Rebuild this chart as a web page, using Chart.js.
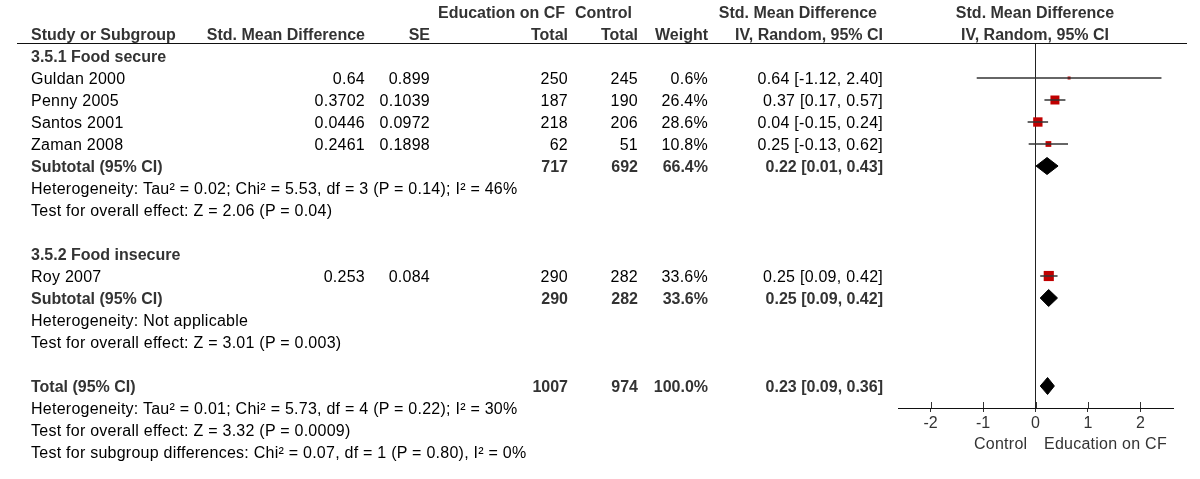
<!DOCTYPE html>
<html>
<head>
<meta charset="utf-8">
<script src="https://cdn.jsdelivr.net/npm/chart.js@4.4.1/dist/chart.umd.min.js"></script>
<style>
  body { margin: 0; background: #fff; overflow: hidden; }
  #page { position: relative; width: 1200px; height: 479px; font-family: 'Liberation Sans', Arial, sans-serif; font-size: 16px; color: #000; }
  .t { position: absolute; white-space: pre; line-height: 18px; letter-spacing: 0.25px; }
  .b { font-weight: bold; color: #333; letter-spacing: 0; }
  .g { color: #333; }
  .r { transform: translateX(-100%); }
  .c { transform: translateX(-50%); }
  #rule { position: absolute; left: 17px; top: 43px; width: 1170px; height: 1px; background: #111; }
  #wrap { position: absolute; left: 0; top: 0; width: 1200px; height: 479px; pointer-events: none; }
</style>
</head>
<body>
<div id="page">
  <div id="rule"></div>
  <div id="wrap"><canvas id="forest"></canvas></div>
</div>
<script>
/* ---------- data ---------- */
const groupNames = ['3.5.1 Food secure', '3.5.2 Food insecure'];
const studies    = ['Guldan 2000', 'Penny 2005', 'Santos 2001', 'Zaman 2008', 'Roy 2007'];
const studyGroup = [0, 0, 0, 0, 1];
const smd        = [0.64, 0.3702, 0.0446, 0.2461, 0.253];
const se         = [0.899, 0.1039, 0.0972, 0.1898, 0.084];
const eduTotal   = [250, 187, 218, 62, 290];
const ctrlTotal  = [245, 190, 206, 51, 282];
const weight     = [0.6, 26.4, 28.6, 10.8, 33.6];
const ciEst      = [0.64, 0.37, 0.04, 0.25, 0.25];
const ciLow      = [-1.12, 0.17, -0.15, -0.13, 0.09];
const ciHigh     = [2.40, 0.57, 0.24, 0.62, 0.42];

const subEdu    = [717, 290];
const subCtrl   = [692, 282];
const subWeight = [66.4, 33.6];
const subEst    = [0.22, 0.25];
const subLow    = [0.01, 0.09];
const subHigh   = [0.43, 0.42];
const subHet    = ['Heterogeneity: Tau\u00b2 = 0.02; Chi\u00b2 = 5.53, df = 3 (P = 0.14); I\u00b2 = 46%',
                   'Heterogeneity: Not applicable'];
const subTest   = ['Test for overall effect: Z = 2.06 (P = 0.04)',
                   'Test for overall effect: Z = 3.01 (P = 0.003)'];

const totEdu = 1007, totCtrl = 974, totWeight = 100.0;
const totEst = 0.23, totLow = 0.09, totHigh = 0.36;
const totLines = ['Heterogeneity: Tau\u00b2 = 0.01; Chi\u00b2 = 5.73, df = 4 (P = 0.22); I\u00b2 = 30%',
                  'Test for overall effect: Z = 3.32 (P = 0.0009)',
                  'Test for subgroup differences: Chi\u00b2 = 0.07, df = 1 (P = 0.80), I\u00b2 = 0%'];

const xTicks = [-2, -1, 0, 1, 2];
const xMin = -2.62, xMax = 2.62;
const favours = ['Control', 'Education on CF'];

/* ---------- layout ---------- */
const ROW0 = 56, ROWH = 22, TOP = 44, AXIS = 408;
const COL = { study: 31, smd: 365, se: 430, edu: 568, ctrl: 638, weight: 708, ci: 883, plot: 1035 };

const page = document.getElementById('page');
function rowY(r) { return ROW0 + ROWH * r; }
function cell(text, x, y, cls) {
  const d = document.createElement('div');
  d.className = 't ' + (cls || '');
  d.textContent = text;
  d.style.left = x + 'px';
  d.style.top = (y - 8) + 'px';
  page.appendChild(d);
}
function ciText(e, l, h) { return e.toFixed(2) + ' [' + l.toFixed(2) + ', ' + h.toFixed(2) + ']'; }

/* header */
cell('Education on CF', 438, rowY(-2), 'b');
cell('Control', 575, rowY(-2), 'b');
cell('Std. Mean Difference', 877, rowY(-2), 'b r');
cell('Std. Mean Difference', COL.plot, rowY(-2), 'b c');
cell('Study or Subgroup', COL.study, rowY(-1), 'b');
cell('Std. Mean Difference', COL.smd, rowY(-1), 'b r');
cell('SE', COL.se, rowY(-1), 'b r');
cell('Total', COL.edu, rowY(-1), 'b r');
cell('Total', COL.ctrl, rowY(-1), 'b r');
cell('Weight', COL.weight, rowY(-1), 'b r');
cell('IV, Random, 95% CI', COL.ci, rowY(-1), 'b r');
cell('IV, Random, 95% CI', COL.plot, rowY(-1), 'b c');

/* table body, collecting plot rows */
const studyRow = [], subRow = [];
let r = 0;
groupNames.forEach((g, gi) => {
  cell(g, COL.study, rowY(r), 'b'); r++;
  studies.forEach((s, i) => {
    if (studyGroup[i] !== gi) return;
    const y = rowY(r);
    cell(s, COL.study, y);
    cell(String(smd[i]), COL.smd, y, 'r');
    cell(String(se[i]), COL.se, y, 'r');
    cell(String(eduTotal[i]), COL.edu, y, 'r');
    cell(String(ctrlTotal[i]), COL.ctrl, y, 'r');
    cell(weight[i].toFixed(1) + '%', COL.weight, y, 'r');
    cell(ciText(ciEst[i], ciLow[i], ciHigh[i]), COL.ci, y, 'r');
    studyRow[i] = r; r++;
  });
  const y = rowY(r);
  cell('Subtotal (95% CI)', COL.study, y, 'b');
  cell(String(subEdu[gi]), COL.edu, y, 'b r');
  cell(String(subCtrl[gi]), COL.ctrl, y, 'b r');
  cell(subWeight[gi].toFixed(1) + '%', COL.weight, y, 'b r');
  cell(ciText(subEst[gi], subLow[gi], subHigh[gi]), COL.ci, y, 'b r');
  subRow[gi] = r; r++;
  cell(subHet[gi], COL.study, rowY(r)); r++;
  cell(subTest[gi], COL.study, rowY(r)); r++;
  r++;
});
const totRow = r;
cell('Total (95% CI)', COL.study, rowY(r), 'b');
cell(String(totEdu), COL.edu, rowY(r), 'b r');
cell(String(totCtrl), COL.ctrl, rowY(r), 'b r');
cell(totWeight.toFixed(1) + '%', COL.weight, rowY(r), 'b r');
cell(ciText(totEst, totLow, totHigh), COL.ci, rowY(r), 'b r');
r++;
totLines.forEach(t => { cell(t, COL.study, rowY(r)); r++; });

cell(favours[0], 974, 443, 'g');
cell(favours[1], 1044, 443, 'g');

/* ---------- chart ---------- */
const RED = '#c00000';
const DIAMOND_H = 8.5 / ROWH;
const datasets = [];

studies.forEach((s, i) => {
  datasets.push({
    data: [{ x: ciLow[i], y: studyRow[i] }, { x: ciHigh[i], y: studyRow[i] }],
    showLine: true, borderColor: '#333', borderWidth: 1.5, pointRadius: 0, fill: false
  });
});

datasets.push({
  data: studies.map((s, i) => ({ x: smd[i], y: studyRow[i] })),
  pointStyle: 'rect',
  pointRadius: weight.map(w => Math.max(3, 1.75 * Math.sqrt(w)) / Math.SQRT2),
  backgroundColor: RED, borderWidth: 0
});

function diamond(est, lo, hi, row) {
  [-1, 1].forEach(side => {
    datasets.push({
      data: [{ x: lo, y: row }, { x: est, y: row + side * DIAMOND_H }, { x: hi, y: row }],
      showLine: true, borderColor: '#000', borderWidth: 1, pointRadius: 0,
      backgroundColor: '#000', fill: { value: row }
    });
  });
}
subEst.forEach((e, gi) => diamond(e, subLow[gi], subHigh[gi], subRow[gi]));
diamond(totEst, totLow, totHigh, totRow);

const upTicks = {
  id: 'upTicks',
  afterDraw(chart) {
    const sx = chart.scales.x, c = chart.ctx;
    c.save();
    c.strokeStyle = '#333';
    c.lineWidth = 1;
    sx.ticks.forEach(t => {
      const px = Math.round(sx.getPixelForValue(t.value)) + 0.5;
      c.beginPath();
      c.moveTo(px, sx.top - 6);
      c.lineTo(px, sx.top);
      c.stroke();
    });
    c.restore();
  }
};

new Chart(document.getElementById('forest'), {
  type: 'scatter',
  data: { datasets },
  options: {
    responsive: true,
    maintainAspectRatio: false,
    animation: false,
    layout: { padding: { left: 898, right: 27, top: TOP, bottom: 0 } },
    plugins: { legend: { display: false }, tooltip: { enabled: false } },
    scales: {
      x: {
        type: 'linear', min: xMin, max: xMax,
        afterBuildTicks: scale => { scale.ticks = xTicks.map(v => ({ value: v })); },
        afterFit: scale => { scale.height = 479 - AXIS; },
        ticks: { color: '#333', padding: 2, font: { family: 'Liberation Sans', size: 16 } },
        grid: {
          color: ctx => (ctx.tick && ctx.tick.value === 0 ? '#222' : 'rgba(0,0,0,0)'),
          tickColor: '#333', tickLength: 4, lineWidth: 1
        },
        border: { display: true, color: '#111', width: 1 }
      },
      y: {
        type: 'linear', reverse: true, display: false,
        min: (TOP - ROW0) / ROWH, max: (AXIS - ROW0) / ROWH
      }
    }
  },
  plugins: [upTicks]
});
</script>
</body>
</html>
